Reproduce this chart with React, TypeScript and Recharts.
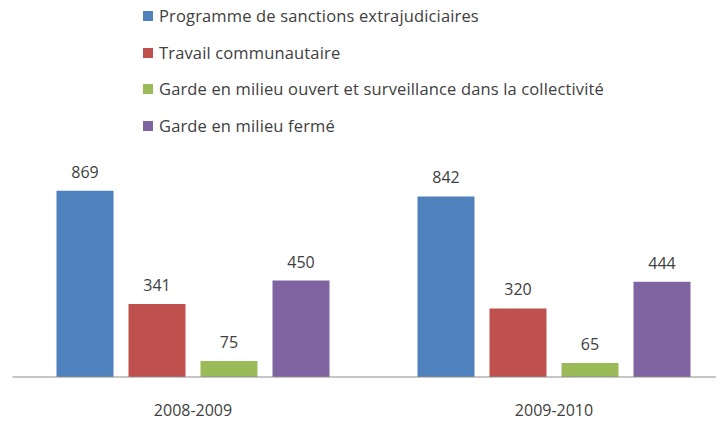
import { BarChart, Bar, XAxis, YAxis, LabelList } from 'recharts';

const years = ['2008-2009', '2009-2010'];
const extrajudiciaires = [869, 842];
const communautaire = [341, 320];
const milieuOuvert = [75, 65];
const milieuFerme = [450, 444];

const series = [
  { key: 'a', name: 'Programme de sanctions extrajudiciaires', color: '#4F81BD', values: extrajudiciaires },
  { key: 'b', name: 'Travail communautaire', color: '#C0504D', values: communautaire },
  { key: 'c', name: 'Garde en milieu ouvert et surveillance dans la collectivité', color: '#9BBB59', values: milieuOuvert },
  { key: 'd', name: 'Garde en milieu fermé', color: '#8064A2', values: milieuFerme },
];

const data = years.map((year, i) => {
  const row: Record<string, string | number> = { year };
  series.forEach((s) => { row[s.key] = s.values[i]; });
  return row;
});

const font = '"Open Sans", sans-serif';
const textColor = '#404040';

function LegendBox() {
  return (
    <div
      style={{
        position: 'absolute', top: -10, left: 135,
        fontFamily: font, fontSize: 16.5, letterSpacing: 0.15, color: textColor,
        whiteSpace: 'nowrap', lineHeight: '20px',
      }}
    >
      {series.map((s) => (
        <div key={s.key} style={{ display: 'flex', alignItems: 'center', height: 36.6 }}>
          <span style={{ width: 10, height: 10, background: s.color, marginRight: 6, display: 'inline-block' }} />
          <span>{s.name}</span>
        </div>
      ))}
    </div>
  );
}

export default function App() {
  return (
    <div style={{ position: 'relative', width: 716, height: 413 }}>
      <div style={{ width: 716, height: 413, overflow: 'hidden' }}>
        <BarChart
          width={740}
          height={413}
          data={data}
          margin={{ top: 154.6, right: 13.5, bottom: 0, left: 4.5 }}
          barSize={57}
          barGap={15}
        >
          <XAxis
            dataKey="year"
            height={44}
            tickLine={false}
            axisLine={{ stroke: '#8c8c8c' }}
            tick={{ fill: textColor, fontSize: 16, fontFamily: font }}
            tickMargin={22}
          />
          <YAxis hide width={0} domain={[0, 1000]} />
          {series.map((s) => (
            <Bar key={s.key} dataKey={s.key} name={s.name} fill={s.color} isAnimationActive={false}>
              <LabelList
                dataKey={s.key}
                position="top"
                offset={13}
                style={{ fill: textColor, fontSize: 16, fontFamily: font }}
              />
            </Bar>
          ))}
        </BarChart>
      </div>
      <LegendBox />
    </div>
  );
}
